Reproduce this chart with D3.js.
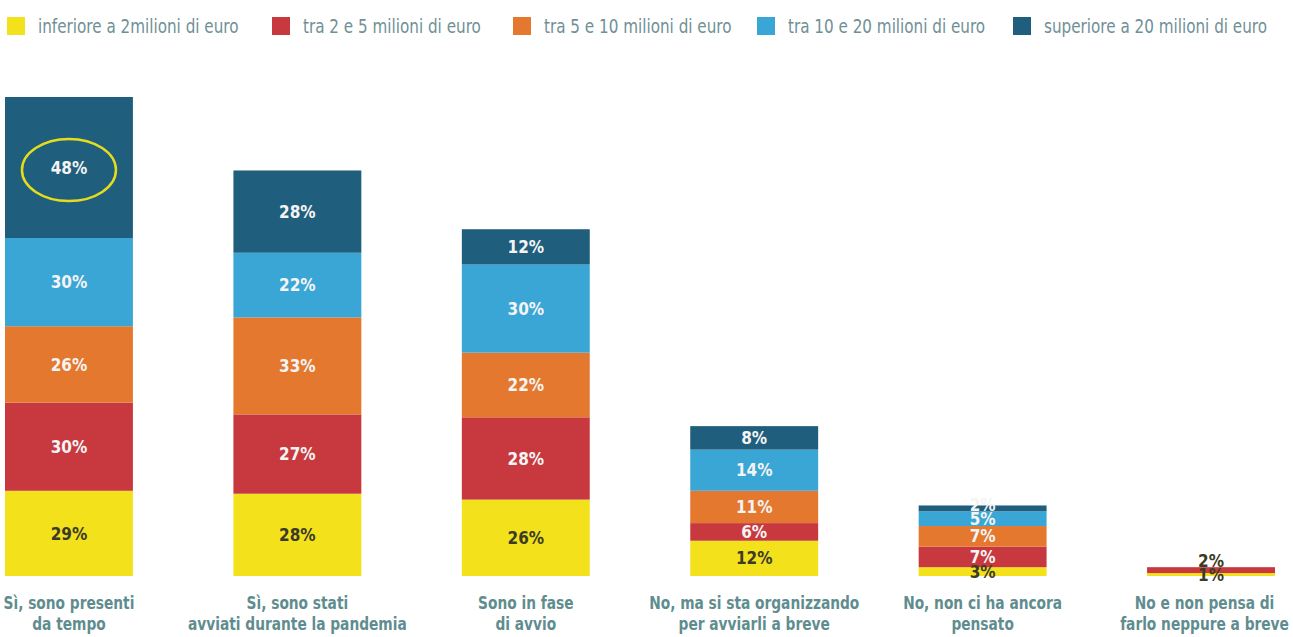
<!DOCTYPE html>
<html>
<head>
<meta charset="utf-8">
<script src="https://cdn.jsdelivr.net/npm/d3@7"></script>
<style>
  body { margin: 0; background: #fff; }
  svg text { font-family: "DejaVu Sans Condensed", sans-serif; }
</style>
</head>
<body>
<div id="chart"></div>
<script>
const categories = [
  ['Sì, sono presenti', 'da tempo'],
  ['Sì, sono stati', 'avviati durante la pandemia'],
  ['Sono in fase', 'di avvio'],
  ['No, ma si sta organizzando', 'per avviarli a breve'],
  ['No, non ci ha ancora', 'pensato'],
  ['No e non pensa di', 'farlo neppure a breve']
];
const seriesNames = [
  'inferiore a 2milioni di euro',
  'tra 2 e 5 milioni di euro',
  'tra 5 e 10 milioni di euro',
  'tra 10 e 20 milioni di euro',
  'superiore a 20 milioni di euro'
];
const under2 = [29, 28, 26, 12, 3, 1];
const from2to5 = [30, 27, 28, 6, 7, 2];
const from5to10 = [26, 33, 22, 11, 7, 0];
const from10to20 = [30, 22, 30, 14, 5, 0];
const over20 = [48, 28, 12, 8, 2, 0];
const colors = ['#f3e11c', '#c8383f', '#e4782f', '#3aa6d6', '#1f5e7c'];

const width = 1293, height = 637;
const keys = ['s0', 's1', 's2', 's3', 's4'];
const rows = categories.map((c, i) => ({
  idx: i,
  s0: under2[i], s1: from2to5[i], s2: from5to10[i], s3: from10to20[i], s4: over20[i]
}));
const stacked = d3.stack().keys(keys)(rows);
const maxTotal = d3.max(rows, r => keys.reduce((a, k) => a + r[k], 0));

const svg = d3.select('#chart').append('svg')
  .attr('width', width).attr('height', height);

const x = d3.scaleBand()
  .domain(d3.range(categories.length))
  .range([5, 1275])
  .paddingInner(0.44)
  .paddingOuter(0);

const y = d3.scaleLinear()
  .domain([0, maxTotal])
  .range([576, 97]);

const color = d3.scaleOrdinal(keys, colors);

// bars
const layers = svg.append('g').selectAll('g')
  .data(stacked)
  .join('g')
  .attr('fill', d => color(d.key));

layers.selectAll('rect')
  .data(d => d.filter(p => p[1] > p[0]))
  .join('rect')
  .attr('x', d => x(d.data.idx))
  .attr('y', d => y(d[1]))
  .attr('width', x.bandwidth())
  .attr('height', d => y(d[0]) - y(d[1]));

// value labels: centred in segment, pushed up when segments are too thin
const minGap = 14;
const labels = [];
rows.forEach((r, ci) => {
  let prevY = Infinity;
  stacked.forEach((layer, li) => {
    const p = layer[ci];
    if (p[1] <= p[0]) return;
    let ly = (y(p[0]) + y(p[1])) / 2;
    if (prevY - ly < minGap) ly = prevY - minGap;
    prevY = ly;
    labels.push({ ci, li, ly, v: p[1] - p[0] });
  });
});

svg.append('g').selectAll('text')
  .data(labels)
  .join('text')
  .attr('x', d => x(d.ci) + x.bandwidth() / 2)
  .attr('y', d => d.ly)
  .attr('dy', '0.36em')
  .attr('text-anchor', 'middle')
  .attr('font-size', 17)
  .attr('font-weight', 'bold')
  .attr('fill', d => (d.li === 0 || d.ci === 5) ? '#3b3b26' : '#f4f4f4')
  .text(d => `${d.v}%`);

// highlight ellipse on first bar top segment
const topSeg = stacked[4][0];
svg.append('ellipse')
  .attr('cx', x(0) + x.bandwidth() / 2)
  .attr('cy', y(topSeg[1]) + 73)
  .attr('rx', 47)
  .attr('ry', 31)
  .attr('fill', 'none')
  .attr('stroke', '#e6dc1e')
  .attr('stroke-width', 2.5);

// category labels, squeezed horizontally (original face is a narrow DIN)
const catK = 0.85;
const catG = svg.append('g').selectAll('text')
  .data(categories)
  .join('text')
  .attr('text-anchor', 'middle')
  .attr('font-size', 18)
  .attr('font-weight', 'bold')
  .attr('fill', '#5f8d8f');
catG.selectAll('tspan')
  .data(d => d)
  .join('tspan')
  .attr('x', 0)
  .attr('dy', (d, i) => i === 0 ? 0 : 21)
  .text(d => d);
catG.each(function(d, i) {
  const half = d3.max(d3.select(this).selectAll('tspan').nodes(), n => n.getComputedTextLength()) * catK / 2;
  let cx = x(i) + x.bandwidth() / 2;
  if (cx + half > width - 4) cx = width - 4 - half;
  if (cx - half < 2) cx = 2 + half;
  d3.select(this).attr('transform', `translate(${cx},609) scale(${catK},1)`);
});

// legend
const legendX = [7, 272, 513, 757, 1013];
const legend = svg.append('g').selectAll('g')
  .data(seriesNames)
  .join('g')
  .attr('transform', (d, i) => `translate(${legendX[i]}, 17)`);
legend.append('rect')
  .attr('width', 18).attr('height', 18)
  .attr('fill', (d, i) => colors[i]);
legend.append('text')
  .attr('transform', 'translate(31,9) scale(0.89,1)')
  .attr('dy', '0.36em')
  .attr('font-size', 19)
  .attr('fill', '#6f9096')
  .text(d => d);
</script>
</body>
</html>
